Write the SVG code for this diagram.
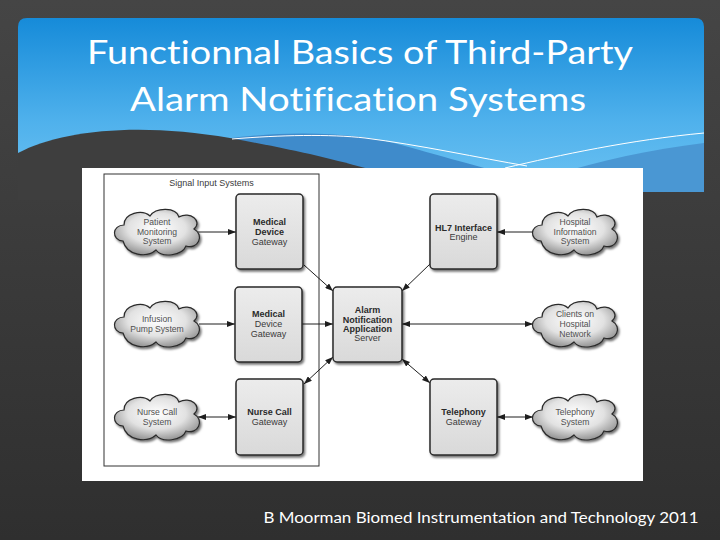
<svg xmlns="http://www.w3.org/2000/svg" width="720" height="540" viewBox="0 0 720 540">
<defs>
<linearGradient id="bg" x1="0" y1="0" x2="0" y2="1"><stop offset="0" stop-color="#454545"/><stop offset="1" stop-color="#2f2f2f"/></linearGradient>
<linearGradient id="hdr" x1="0" y1="0" x2="0" y2="1"><stop offset="0" stop-color="#168bd9"/><stop offset="0.6" stop-color="#4fb1ec"/><stop offset="1" stop-color="#6cc2f2"/></linearGradient>
<linearGradient id="boxg" x1="0" y1="0" x2="0" y2="1"><stop offset="0" stop-color="#ececec"/><stop offset="1" stop-color="#d9d9d9"/></linearGradient>
<radialGradient id="cloudg" cx="0.5" cy="0.42" r="0.62"><stop offset="0" stop-color="#ffffff"/><stop offset="0.55" stop-color="#e2e2e2"/><stop offset="1" stop-color="#8c8c8c"/></radialGradient>
<filter id="sh" x="-20%" y="-20%" width="150%" height="150%"><feDropShadow dx="1.5" dy="2" stdDeviation="1.2" flood-color="#000" flood-opacity="0.55"/></filter>
<marker id="ah" viewBox="0 0 8 6" refX="8" refY="3" markerWidth="8" markerHeight="6" markerUnits="userSpaceOnUse" orient="auto-start-reverse"><path d="M0,0 L8,3 L0,6 Z" fill="#1e1e1e"/></marker>
<path id="cloud" d="M-34,9 C-46,8 -45,-7 -33,-7 C-33,-19 -15,-23 -7,-16 C-1,-25 19,-25 22,-15 C33,-21 46,-11 37,-3 C48,3 41,18 29,14 C25,24 5,26 -1,18 C-10,26 -30,24 -34,9 Z"/>
<style>
.box{fill:url(#boxg);stroke:#2a2a2a;stroke-width:1.5;filter:url(#sh)}
.cl{fill:url(#cloudg);stroke:#2a2a2a;stroke-width:1.2;filter:url(#sh)}
.bt{font-family:"Liberation Sans",Arial,sans-serif;font-size:9px;font-weight:bold;fill:#2a2a2a;text-anchor:middle}
.rt{font-family:"Liberation Sans",Arial,sans-serif;font-size:9px;fill:#3a3a3a;text-anchor:middle}
.ct{font-family:"Liberation Sans",Arial,sans-serif;font-size:8.6px;fill:#505050;text-anchor:middle}
.cn{fill:none;stroke:#1e1e1e;stroke-width:1}
.ttl{font-family:Lato,"Open Sans","Liberation Sans",sans-serif;font-size:32px;fill:#ffffff;text-anchor:middle;font-variant-ligatures:none}
.ft{font-family:Lato,"Open Sans","Liberation Sans",sans-serif;font-size:15px;fill:#ffffff;text-anchor:middle;font-variant-ligatures:none}
</style>
</defs>
<rect x="0" y="0" width="720" height="540" fill="url(#bg)"/>
<g id="header">
<path d="M18,27 Q18,18 27,18 L695,18 Q704,18 704,27 L704,190 L18,190 Z" fill="url(#hdr)"/>
<path d="M200,143 C270,130 350,130 405,146 C445,157 472,165 500,172 L200,172 Z" fill="#3f8bcb"/>
<path d="M555,175 C600,160 650,150 704,143 L704,192 L555,192 Z" fill="#4a97d3"/>
<path d="M18,153 C60,130 140,122 230,138 C290,149 330,158 372,170 L372,200 L18,200 Z" fill="#3e3e3e"/>
<path d="M232,139 C280,135 330,134 365,138 C420,145 480,158 527,166" fill="none" stroke="#ffffff" stroke-width="1"/>
<path d="M505,168 C560,155 630,140 704,133" fill="none" stroke="#ffffff" stroke-width="1"/>
<text class="ttl" x="360" y="64" textLength="546" lengthAdjust="spacingAndGlyphs">Functionnal Basics of Third-Party</text>
<text class="ttl" x="358" y="111" textLength="456" lengthAdjust="spacingAndGlyphs">Alarm Notification Systems</text>
</g>
<rect x="82" y="168" width="561" height="313" fill="#ffffff"/>
<g id="signal-input-frame">
<rect x="104" y="174" width="215" height="292" fill="none" stroke="#333" stroke-width="1"/>
<text class="rt" x="211.5" y="185.5">Signal Input Systems</text>
</g>
<g id="connectors">
<line class="cn" x1="198" y1="232" x2="236" y2="232" marker-end="url(#ah)"/>
<line class="cn" x1="199" y1="324" x2="235" y2="324" marker-end="url(#ah)"/>
<line class="cn" x1="198" y1="417" x2="236" y2="417" marker-start="url(#ah)" marker-end="url(#ah)"/>
<line class="cn" x1="304" y1="265" x2="333" y2="291" marker-end="url(#ah)"/>
<line class="cn" x1="302" y1="324" x2="333" y2="324" marker-end="url(#ah)"/>
<line class="cn" x1="333" y1="357" x2="304" y2="384" marker-start="url(#ah)" marker-end="url(#ah)"/>
<line class="cn" x1="430" y1="264" x2="402" y2="291" marker-end="url(#ah)"/>
<line class="cn" x1="533" y1="232" x2="497" y2="232" marker-end="url(#ah)"/>
<line class="cn" x1="402" y1="324" x2="533" y2="324" marker-start="url(#ah)" marker-end="url(#ah)"/>
<line class="cn" x1="402" y1="359" x2="430" y2="383" marker-start="url(#ah)" marker-end="url(#ah)"/>
<line class="cn" x1="497" y1="417" x2="533" y2="417" marker-start="url(#ah)" marker-end="url(#ah)"/>
</g>
<g id="patient-monitoring">
<use href="#cloud" class="cl" transform="translate(157,232)"/>
<text class="ct" x="157" y="225">Patient</text>
<text class="ct" x="157" y="234.7">Monitoring</text>
<text class="ct" x="157" y="244">System</text>
</g>
<g id="infusion-pump">
<use href="#cloud" class="cl" transform="translate(157,324)"/>
<text class="ct" x="157" y="322">Infusion</text>
<text class="ct" x="157" y="332">Pump System</text>
</g>
<g id="nurse-call-system">
<use href="#cloud" class="cl" transform="translate(157,417)"/>
<text class="ct" x="157" y="415">Nurse Call</text>
<text class="ct" x="157" y="425">System</text>
</g>
<g id="hospital-info">
<use href="#cloud" class="cl" transform="translate(575,232)"/>
<text class="ct" x="575" y="225">Hospital</text>
<text class="ct" x="575" y="234.7">Information</text>
<text class="ct" x="575" y="244">System</text>
</g>
<g id="clients-network">
<use href="#cloud" class="cl" transform="translate(575,324)"/>
<text class="ct" x="575" y="317">Clients on</text>
<text class="ct" x="575" y="327">Hospital</text>
<text class="ct" x="575" y="337">Network</text>
</g>
<g id="telephony-system">
<use href="#cloud" class="cl" transform="translate(575,417)"/>
<text class="ct" x="575" y="415">Telephony</text>
<text class="ct" x="575" y="425">System</text>
</g>
<g id="mdg1">
<rect class="box" x="236" y="194" width="67" height="75" rx="4"/>
<text class="bt" x="269.5" y="225.3">Medical</text>
<text class="bt" x="269.5" y="235">Device</text>
<text class="rt" x="269.5" y="244.5">Gateway</text>
</g>
<g id="mdg2">
<rect class="box" x="235" y="287" width="67" height="75" rx="4"/>
<text class="bt" x="268.5" y="317">Medical</text>
<text class="rt" x="268.5" y="327">Device</text>
<text class="rt" x="268.5" y="337">Gateway</text>
</g>
<g id="nurse-call-gateway">
<rect class="box" x="236" y="379" width="67" height="76" rx="4"/>
<text class="bt" x="269.5" y="415">Nurse Call</text>
<text class="rt" x="269.5" y="425">Gateway</text>
</g>
<g id="alarm-server">
<rect class="box" x="333" y="287" width="69" height="75" rx="4"/>
<text class="bt" x="367.5" y="312.5">Alarm</text>
<text class="bt" x="367.5" y="322.5">Notification</text>
<text class="bt" x="367.5" y="331.5">Application</text>
<text class="rt" x="367.5" y="341">Server</text>
</g>
<g id="hl7-engine">
<rect class="box" x="430" y="194" width="67" height="75" rx="4"/>
<text class="bt" x="463.5" y="230.5">HL7 Interface</text>
<text class="rt" x="463.5" y="240">Engine</text>
</g>
<g id="telephony-gateway">
<rect class="box" x="430" y="379" width="67" height="76" rx="4"/>
<text class="bt" x="463.5" y="415">Telephony</text>
<text class="rt" x="463.5" y="425">Gateway</text>
</g>
<text class="ft" x="481" y="523" textLength="435" lengthAdjust="spacingAndGlyphs">B Moorman Biomed Instrumentation and Technology 2011</text>
</svg>
